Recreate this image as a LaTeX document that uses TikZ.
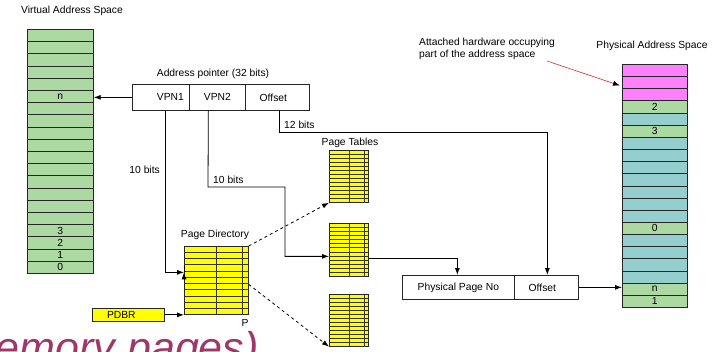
\documentclass[tikz,border=0pt]{standalone}
\usepackage{fontspec}
\setmainfont{Liberation Sans}
\usetikzlibrary{arrows.meta,calc}
\definecolor{vgreen}{RGB}{171,217,161}
\definecolor{pcyan}{RGB}{148,206,206}
\definecolor{ppink}{RGB}{255,128,255}
\definecolor{tyellow}{RGB}{255,255,0}
\definecolor{hwred}{RGB}{220,40,40}
\definecolor{titlepurple}{RGB}{160,55,105}
\begin{document}
\begin{tikzpicture}[x=1pt,y=-1pt,
  font=\fontsize{10.3}{12}\selectfont,
  colcell/.style={draw=black!85, line width=0.7pt, minimum width=66pt, minimum height=12.2pt, inner sep=0pt, anchor=north west},
  abox/.style={draw=black!85, line width=0.7pt, minimum height=26pt, inner sep=0pt, anchor=north west},
  tbl/.style={draw=black!85, fill=tyellow, line width=0.7pt, inner sep=0pt, anchor=north west},
  tline/.style={black!80, line width=0.6pt},
  conn/.style={black, line width=0.8pt},
  arr/.style={conn, -{Latex[length=7pt,width=5pt]}},
  darr/.style={arr, dash pattern=on 3pt off 3pt},
  lbl/.style={inner sep=0pt}]
\useasboundingbox (0,0) rectangle (715,351);
\clip (0,0) rectangle (715,351);

% Virtual address space
\node[lbl] (vtitle) at (72,11) {Virtual Address Space};
\foreach \i/\t in {0/{},1/{},2/{},3/{},4/{},5/n,6/{},7/{},8/{},9/{},10/{},11/{},12/{},13/{},14/{},15/{},16/3,17/2,18/1,19/0}
  \node[colcell, fill=vgreen] (v\i) at (27,{29+12.2*\i}) {\t};

% Physical address space
\node[lbl] (ptitle) at (652,46) {Physical Address Space};
\foreach \i/\c/\t in {0/ppink/{},1/ppink/{},2/ppink/{},3/vgreen/2,4/pcyan/{},5/vgreen/3,6/pcyan/{},7/pcyan/{},8/pcyan/{},9/pcyan/{},10/pcyan/{},11/pcyan/{},12/pcyan/{},13/vgreen/0,14/pcyan/{},15/pcyan/{},16/pcyan/{},17/pcyan/{},18/vgreen/n,19/vgreen/1}
  \node[colcell, fill=\c, minimum width=65pt, minimum height=12.15pt] (p\i) at (622,{64+12.15*\i}) {\t};

\node[lbl, align=left, anchor=north west] (hwtext) at (419,38) {Attached hardware occupying\\part of the address space};
\coordinate (hwstart) at (547,61);
\draw[hwred, line width=0.6pt, -{Latex[length=7pt,width=5pt,color=black]}] (hwstart) -- ($(p1.west)+(-2,3)$);

% Address pointer
\node[lbl] (atitle) at (213,74) {Address pointer (32 bits)};
\node[abox, minimum width=57pt] (vpn1) at (132,84) {\hspace*{19pt}VPN1};
\node[abox, minimum width=56pt] (vpn2) at (189,84) {VPN2};
\node[abox, minimum width=64pt] (aoff) at (245,84) {\raisebox{-1.5pt}{Offset}\hspace*{8pt}};

\draw[arr] (vpn1.west) -- (vpn1.west -| v5.east);

% Page directory
\node[lbl] (pdtitle) at (215,235) {Page Directory};
\node[tbl, minimum width=64pt, minimum height=68pt] (pd) at (184,246) {};
\foreach \k in {1,...,10}
  \draw[tline] ($(pd.north west)!\k/11!(pd.south west)$) -- ($(pd.north east)!\k/11!(pd.south east)$);
\foreach \f in {0.5,0.906}
  \draw[tline] ($(pd.north west)!\f!(pd.north east)$) -- ($(pd.south west)!\f!(pd.south east)$);
\node[lbl] (plabel) at (245,323) {P};

% Page tables
\node[lbl] (pttitle) at (350,143) {Page Tables};
\foreach \n/\y/\h in {pt1/150/52,pt2/223/53,pt3/294/52}{
  \node[tbl, minimum width=39pt, minimum height=\h pt] (\n) at (329,\y) {};
  \foreach \k in {1,...,12}
    \draw[tline] ($(\n.north west)!\k/13!(\n.south west)$) -- ($(\n.north east)!\k/13!(\n.south east)$);
  \foreach \f in {0.513,0.897}
    \draw[tline] ($(\n.north west)!\f!(\n.north east)$) -- ($(\n.south west)!\f!(\n.south east)$);
}

% PDBR
\node[tbl, minimum width=72pt, minimum height=13pt] (pdbr) at (92,308) {PDBR\hspace*{14pt}};
\draw[arr] (pdbr.east) -- (pdbr.east -| pd.west);

% Physical page number / offset
\node[abox, minimum width=112pt, minimum height=24pt] (ppn) at (402,275) {Physical Page No};
\node[abox, minimum width=64pt, minimum height=24pt] (poff) at (514,275) {Offset\hspace*{8pt}};

% VPN1 -> page directory
\draw[arr] ($(vpn1.south)+(4.5,0)$) |- ($(pd.west)+(0,-8)$);
\node[lbl, anchor=east] (b1) at (160,170) {10 bits};

% VPN2 -> page table
\coordinate (v2a) at (208,187);
\coordinate (v2b) at (285,187);
\draw[arr] ($(vpn2.south)+(-9,0)$) -- (v2a) -- (v2b) |- ($(pt2.west)+(0,6.5)$);
\node[lbl, anchor=south west] (b2) at (213,184) {10 bits};

% Offset -> physical offset
\draw[arr] ($(aoff.south)+(2,0)$) |- ($(poff.north)+(1,-143)$) -- ($(poff.north)+(1,0)$);
\node[lbl, anchor=south west] (b3) at (284,129) {12 bits};

% Page directory -> page tables
\draw[darr] (pd.north east) -- (pt1.south west);
\draw[arr] ($(pd.west)+(0,-8)$ -| pd.east) -- ($(pd.west)+(0,-8)$ -| pt2.west);
\draw[darr] ($(pd.east)+(0,4)$) -- (pt3.south west);

% Page table -> physical page no
\draw[arr] ($(pt2.east)+(0,8.5)$) -| ($(ppn.north)+(-1,0)$);

% Physical address -> physical memory
\draw[arr] (poff.east) -- (poff.east -| p18.west);

% Slide title remnant
\node[anchor=base east, inner sep=0pt, text=titlepurple, font=\fontsize{43}{45}\selectfont\itshape] (slidetitle) at (259,362) {emory pages)};
\end{tikzpicture}
\end{document}
